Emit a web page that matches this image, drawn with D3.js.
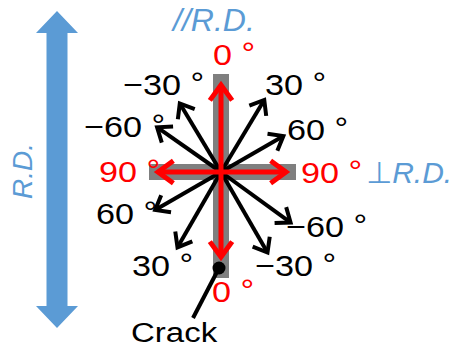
<!DOCTYPE html>
<html><head><meta charset="utf-8">
<script src="https://cdn.jsdelivr.net/npm/d3@7"></script>
<style>html,body{margin:0;padding:0;background:#fff;}svg{display:block;}</style>
</head><body>
<script>
// ---- data ----
const redAngles = [0, 90, 180, 270];          // degrees, clockwise from "up"
const redLengths = [87, 65, 85, 63];
const blackAngles = [31, -31, 60, -55, 210, 150, 126, 240];
const blackLengths = [84, 80, 72, 78, 87, 93, 86, 76];
const labelTexts = ["0", "\u221230", "30", "60", "\u221260", "90", "90", "60", "\u221260", "30", "\u221230", "0"];
const labelColors = ["red", "black", "black", "black", "black", "red", "red", "black", "black", "black", "black", "red"];
const barExtent = {up: 98, down: 106, left: 72, right: 75};
const axisTitles = ["//R.D.", "\u22a5R.D.", "R.D."];
const crackLabel = "Crack";

// ---- layout ----
const W = 453, H = 354;
const cx = 221, cy = 172;
const labelPos = [[213,65],[123,95],[265,95],[287,140],[84,137],[99,182],[301,183],[96,224],[286,237],[132,276],[255,276],[212,302]];
const RED = "#ff0000", BLUE = "#5b9bd5", GRAY = "#7f7f7f";
const FONT = "'Liberation Sans', Arial, 'DejaVu Sans', sans-serif";

const svg = d3.select("body").append("svg").attr("width", W).attr("height", H);

const r = d3.scaleLinear().domain([0, 100]).range([0, 100]);
const ang = d3.scaleLinear().domain([0, 360]).range([0, 2 * Math.PI]);

// big blue double arrow
const bx = 57, bTop = 11, bBot = 328, headH = 22, headW = 21, shaftW = 10.5;
svg.append("path")
  .attr("d", `M${bx},${bTop} L${bx+headW},${bTop+headH} L${bx+shaftW},${bTop+headH} L${bx+shaftW},${bBot-headH} L${bx+headW},${bBot-headH} L${bx},${bBot} L${bx-headW},${bBot-headH} L${bx-shaftW},${bBot-headH} L${bx-shaftW},${bTop+headH} L${bx-headW},${bTop+headH} Z`)
  .attr("fill", BLUE);

// gray cross
svg.append("rect").attr("x", cx - 8).attr("y", cy - r(barExtent.up)).attr("width", 16)
  .attr("height", r(barExtent.up) + r(barExtent.down)).attr("fill", GRAY);
svg.append("rect").attr("x", cx - r(barExtent.left)).attr("y", cy - 8).attr("height", 16)
  .attr("width", r(barExtent.left) + r(barExtent.right)).attr("fill", GRAY);

function arrows(angles, lengths, color, sw, arm, phiDeg) {
  const g = svg.append("g").attr("fill", "none").attr("stroke", color)
    .attr("stroke-width", sw).attr("stroke-linecap", "butt").attr("stroke-linejoin", "miter");
  angles.forEach((a, i) => {
    const t = ang(a), L = r(lengths[i]);
    const ux = Math.sin(t), uy = -Math.cos(t);
    const tx = cx + ux * L, ty = cy + uy * L;
    g.append("line").attr("x1", cx).attr("y1", cy).attr("x2", tx - ux * sw * 0.6).attr("y2", ty - uy * sw * 0.6);
    const phi = phiDeg * Math.PI / 180;
    const rot = (s) => {
      const c = Math.cos(s * phi), sn = Math.sin(s * phi);
      return [ux * c - uy * sn, ux * sn + uy * c];
    };
    const [ax1, ay1] = rot(1), [ax2, ay2] = rot(-1);
    g.append("path").attr("d",
      `M${tx - ax1 * arm},${ty - ay1 * arm} L${tx},${ty} L${tx - ax2 * arm},${ty - ay2 * arm}`);
  });
}
arrows(blackAngles, blackLengths, "#000", 4, 16, 38);
arrows(redAngles, redLengths, RED, 5, 19, 36);

// crack
svg.append("line").attr("x1", 219).attr("y1", 268).attr("x2", 193).attr("y2", 318)
  .attr("stroke", "#000").attr("stroke-width", 4);
svg.append("circle").attr("cx", 219).attr("cy", 268).attr("r", 6.5).attr("fill", "#000");

// angle labels
labelTexts.forEach((t, i) => {
  const [x, y] = labelPos[i];
  const txt = svg.append("text").attr("transform", `translate(${x},${y}) scale(1.14,1)`)
    .attr("font-family", FONT).attr("font-size", 30).attr("fill", labelColors[i] === "red" ? RED : "#000");
  txt.append("tspan").text(t);
  txt.append("tspan").attr("dy", -2).text(" \u00b0");
});

// crack label
svg.append("text").attr("transform", "translate(131,342) scale(1.18,1)")
  .attr("font-family", FONT).attr("font-size", 28).attr("fill", "#000").text(crackLabel);

// direction titles
svg.append("text").attr("x", 173).attr("y", 31).attr("font-family", FONT).attr("font-style", "italic")
  .attr("font-size", 32).attr("fill", BLUE).text(axisTitles[0]);
svg.append("text").attr("x", 366).attr("y", 183).attr("font-family", FONT).attr("font-style", "italic")
  .attr("font-size", 30).attr("fill", BLUE).text(axisTitles[1]);
svg.append("text").attr("transform", "translate(32,171) rotate(-90)").attr("text-anchor", "middle")
  .attr("font-family", FONT).attr("font-style", "italic").attr("font-size", 28).attr("fill", BLUE).text(axisTitles[2]);
</script>
</body></html>
